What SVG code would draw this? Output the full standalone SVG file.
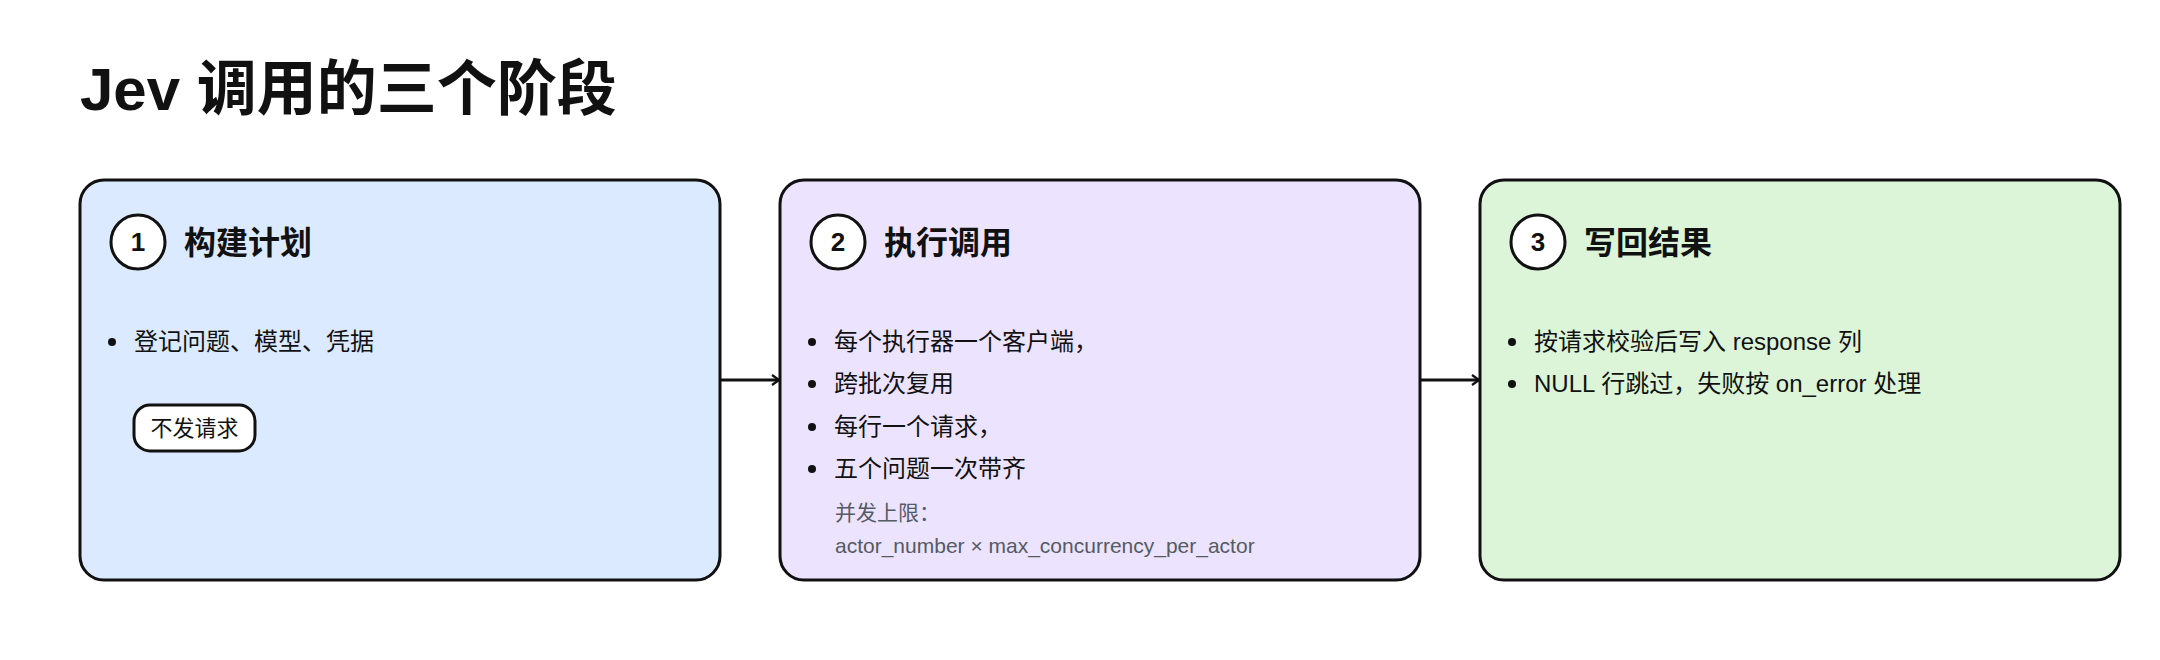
<svg xmlns="http://www.w3.org/2000/svg" width="2160" height="660" viewBox="0 0 2160 660">
<defs>
<style>
.t{font-family:"Liberation Sans","Noto Sans CJK SC",sans-serif;fill:#111}
.title{font-size:60px;font-weight:bold}
.h{font-size:32px;font-weight:bold}
.num{font-size:26px;font-weight:bold;text-anchor:middle}
.b{font-size:24px}
.pill{font-size:22px}
.note{font-size:21px;fill:#555a63}
.box{stroke:#111;stroke-width:3}
.circ{fill:#fff;stroke:#111;stroke-width:3}
.dot{fill:#111}
.conn{stroke:#111;stroke-width:3;fill:none}
</style>
<marker id="arr" viewBox="0 0 10 12" refX="9" refY="6" markerWidth="10" markerHeight="12" markerUnits="userSpaceOnUse" orient="auto">
<path d="M2,1 L9,6 L2,11" fill="none" stroke="#111" stroke-width="2.2"/>
</marker>
</defs>
<rect width="2160" height="660" fill="#fff"/>
<text class="t title" x="80" y="110">Jev 调用的三个阶段</text>
<g id="connectors">
<line class="conn" x1="720" y1="380" x2="779" y2="380" marker-end="url(#arr)"/>
<line class="conn" x1="1420" y1="380" x2="1479" y2="380" marker-end="url(#arr)"/>
</g>
<g id="stage1">
<rect class="box" x="80" y="180" width="640" height="400" rx="24" fill="#dbeafe"/>
<circle class="circ" cx="138" cy="242" r="27"/>
<text class="t num" x="138" y="251">1</text>
<text class="t h" x="184" y="254">构建计划</text>
<circle class="dot" cx="112" cy="342" r="4"/>
<text class="t b" x="134" y="350">登记问题、模型、凭据</text>
<rect x="134" y="405" width="121" height="46" rx="16" fill="#fff" stroke="#111" stroke-width="3"/>
<text class="t pill" x="194.5" y="436" text-anchor="middle">不发请求</text>
</g>
<g id="stage2">
<rect class="box" x="780" y="180" width="640" height="400" rx="24" fill="#ece4fe"/>
<circle class="circ" cx="838" cy="242" r="27"/>
<text class="t num" x="838" y="251">2</text>
<text class="t h" x="884" y="254">执行调用</text>
<circle class="dot" cx="812" cy="342" r="4"/>
<text class="t b" x="834" y="350">每个执行器一个客户端，</text>
<circle class="dot" cx="812" cy="384" r="4"/>
<text class="t b" x="834" y="392">跨批次复用</text>
<circle class="dot" cx="812" cy="427" r="4"/>
<text class="t b" x="834" y="435">每行一个请求，</text>
<circle class="dot" cx="812" cy="469" r="4"/>
<text class="t b" x="834" y="477">五个问题一次带齐</text>
<text class="t note" x="835" y="520">并发上限：</text>
<text class="t note" x="835" y="553">actor_number × max_concurrency_per_actor</text>
</g>
<g id="stage3">
<rect class="box" x="1480" y="180" width="640" height="400" rx="24" fill="#dcf5d9"/>
<circle class="circ" cx="1538" cy="242" r="27"/>
<text class="t num" x="1538" y="251">3</text>
<text class="t h" x="1584" y="254">写回结果</text>
<circle class="dot" cx="1512" cy="342" r="4"/>
<text class="t b" x="1534" y="350">按请求校验后写入 response 列</text>
<circle class="dot" cx="1512" cy="384" r="4"/>
<text class="t b" x="1534" y="392">NULL 行跳过，失败按 on_error 处理</text>
</g>
</svg>
